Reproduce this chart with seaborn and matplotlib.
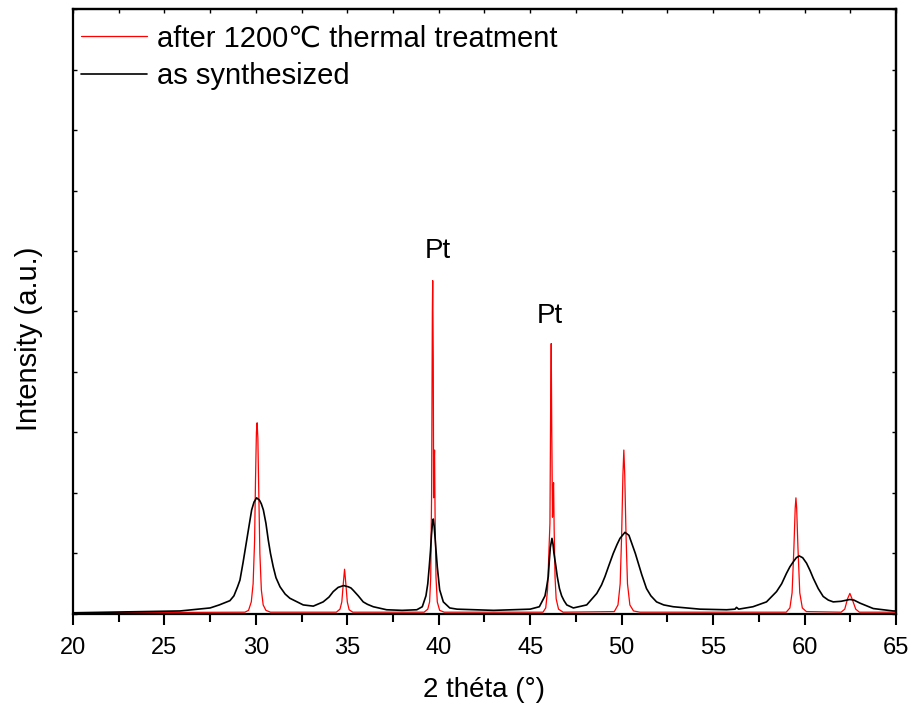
import matplotlib
matplotlib.use("Agg")
import matplotlib.pyplot as plt
import seaborn as sns
import pandas as pd
from matplotlib.ticker import MultipleLocator, NullFormatter

# XRD patterns (2 theta in degrees, intensity in arbitrary units)
treated_2theta = [20, 29.4, 29.6, 29.75, 29.85, 29.93, 29.98, 30.03, 30.07, 30.11, 30.16, 30.22, 30.3, 30.4,
                  30.55, 30.8, 34.4, 34.6, 34.7, 34.78, 34.85, 34.92, 35.0, 35.1, 35.3, 39.2, 39.4, 39.5,
                  39.56, 39.61, 39.65, 39.67, 39.7, 39.72, 39.75, 39.77, 39.8, 39.85, 39.92, 40.05, 40.3,
                  45.7, 45.85, 45.95, 46.02, 46.08, 46.12, 46.15, 46.18, 46.22, 46.26, 46.28, 46.31, 46.36,
                  46.42, 46.55, 46.8, 49.6, 49.8, 49.92, 50.0, 50.07, 50.12, 50.17, 50.24, 50.32, 50.45,
                  50.65, 51.0, 59.0, 59.2, 59.32, 59.42, 59.49, 59.53, 59.57, 59.64, 59.74, 59.88, 60.1,
                  62.0, 62.2, 62.35, 62.48, 62.6, 62.8, 63.0, 65]
treated_int = [0.02, 0.03, 0.06, 0.2, 0.5, 1.2, 2.2, 3.0, 3.16, 2.9, 2.0, 1.0, 0.4, 0.15,
               0.06, 0.03, 0.03, 0.08, 0.2, 0.5, 0.74, 0.5, 0.2, 0.07, 0.03, 0.03, 0.08, 0.2,
               0.6, 2.0, 5.0, 5.51, 4.2, 1.92, 2.5, 2.71, 1.6, 0.6, 0.2, 0.06, 0.03,
               0.03, 0.1, 0.4, 1.0, 1.5, 3.5, 4.47, 3.0, 1.6, 2.1, 2.17, 1.4, 0.6,
               0.25, 0.08, 0.03, 0.04, 0.15, 0.5, 1.3, 2.3, 2.71, 2.3, 1.3, 0.5, 0.15,
               0.05, 0.03, 0.03, 0.1, 0.35, 1.1, 1.75, 1.92, 1.75, 1.1, 0.35, 0.1, 0.04,
               0.03, 0.08, 0.25, 0.34, 0.25, 0.08, 0.03, 0.03]

synth_2theta = [20, 22, 24, 25.85, 27.5, 28.0, 28.58, 28.8, 29.0, 29.13, 29.3, 29.5, 29.65, 29.77, 29.9,
                30.04, 30.2, 30.3, 30.41, 30.55, 30.68, 30.8, 30.95, 31.1, 31.32, 31.6, 31.86, 32.59,
                33.14, 33.68, 34.0, 34.23, 34.5, 34.8, 35.05, 35.2, 35.33, 35.45, 35.6, 35.87, 36.1,
                36.42, 37.15, 38.0, 38.8, 39.1, 39.3, 39.4, 39.48, 39.55, 39.6, 39.65, 39.7, 39.75,
                39.8, 39.86, 39.92, 40.0, 40.05, 40.15, 40.25, 40.6, 41, 43, 45, 45.5, 45.81, 45.9,
                45.99, 46.05, 46.1, 46.19, 46.25, 46.3, 46.4, 46.48, 46.6, 46.72, 46.85, 47.0, 47.36,
                48.09, 48.64, 48.9, 49.09, 49.3, 49.54, 49.75, 49.91, 50.18, 50.4, 50.55, 50.75,
                50.91, 51.1, 51.36, 51.6, 51.91, 52.3, 52.82, 54.28, 55.74, 56.2, 56.28, 56.4, 57.18,
                57.92, 58.47, 58.75, 59.01, 59.2, 59.38, 59.55, 59.71, 59.9, 60.11, 60.3, 60.48,
                60.75, 61.02, 61.3, 61.57, 62.0, 62.48, 62.7, 63.03, 63.76, 64.85, 65]
synth_int = [0.02, 0.03, 0.04, 0.05, 0.1, 0.15, 0.22, 0.3, 0.45, 0.56, 0.85, 1.22, 1.5, 1.72, 1.85,
             1.92, 1.88, 1.82, 1.72, 1.5, 1.22, 1.0, 0.78, 0.6, 0.45, 0.33, 0.26, 0.15,
             0.13, 0.2, 0.28, 0.37, 0.44, 0.47, 0.45, 0.43, 0.39, 0.35, 0.3, 0.2, 0.16,
             0.12, 0.07, 0.06, 0.07, 0.12, 0.3, 0.5, 0.78, 1.05, 1.3, 1.48, 1.57, 1.45,
             1.25, 1.0, 0.78, 0.55, 0.4, 0.3, 0.2, 0.1, 0.08, 0.06, 0.08, 0.12, 0.3, 0.45,
             0.62, 0.9, 1.1, 1.25, 1.15, 1.0, 0.8, 0.62, 0.42, 0.3, 0.22, 0.15, 0.1,
             0.15, 0.34, 0.48, 0.62, 0.8, 1.0, 1.15, 1.25, 1.35, 1.3, 1.17, 1.0,
             0.84, 0.65, 0.42, 0.3, 0.2, 0.15, 0.12, 0.08, 0.07, 0.08, 0.11, 0.08, 0.12,
             0.2, 0.37, 0.5, 0.67, 0.78, 0.86, 0.93, 0.96, 0.93, 0.84, 0.72, 0.59,
             0.42, 0.29, 0.23, 0.2, 0.21, 0.24, 0.23, 0.18, 0.09, 0.05, 0.05]

pt_labels = [(39.96, 6.0), (46.08, 4.92)]

treated = pd.DataFrame({"x": treated_2theta, "y": treated_int})
synth = pd.DataFrame({"x": synth_2theta, "y": synth_int})

sns.set_style("white")
plt.rcParams["font.family"] = ["Liberation Sans", "DejaVu Sans"]
plt.rcParams["text.color"] = "black"
plt.rcParams["axes.labelcolor"] = "black"
plt.rcParams["xtick.color"] = "black"
plt.rcParams["ytick.color"] = "black"

fig = plt.figure(figsize=(9.11, 7.09), dpi=100)
ax = fig.add_axes([0.0801, 0.134, 0.9034, 0.8533])

sns.lineplot(data=treated, x="x", y="y", ax=ax, color="red", lw=0.9, sort=False,
             estimator=None, label="after 1200\u2103 thermal treatment")
sns.lineplot(data=synth, x="x", y="y", ax=ax, color="black", lw=1.2, sort=False,
             estimator=None, label="as synthesized")

for px, py in pt_labels:
    ax.text(px, py, "Pt", fontsize=20, ha="center", va="center")

ax.set_xlim(20, 65)
ax.set_ylim(0, 10)
ax.set_xlabel("2 théta (°)", fontsize=20, labelpad=13)
ax.set_ylabel("Intensity (a.u.)", fontsize=21)
ax.yaxis.set_label_coords(-0.036, 0.4545)

ax.xaxis.set_major_locator(MultipleLocator(5))
ax.xaxis.set_minor_locator(MultipleLocator(2.5))
ax.yaxis.set_major_locator(MultipleLocator(1))
ax.yaxis.set_major_formatter(NullFormatter())
ax.tick_params(axis="x", which="major", direction="out", length=8, width=1.5, labelsize=17, pad=8.5,
               bottom=True)
ax.tick_params(axis="x", which="minor", direction="out", length=5.5, width=1.5, bottom=True)
ax.tick_params(axis="y", which="major", direction="in", length=3, width=1, left=True)

# top and right axes with small inward ticks
top = ax.secondary_xaxis("top")
top.xaxis.set_major_locator(MultipleLocator(2.5))
top.xaxis.set_major_formatter(NullFormatter())
top.tick_params(direction="in", length=3, width=1)
right = ax.secondary_yaxis("right")
right.yaxis.set_major_locator(MultipleLocator(1))
right.yaxis.set_major_formatter(NullFormatter())
right.tick_params(direction="in", length=3, width=1)

for s in ax.spines.values():
    s.set_linewidth(1.6)
    s.set_color("black")
top.spines["top"].set_linewidth(1.6)
right.spines["right"].set_linewidth(1.6)

ax.legend(loc="upper left", bbox_to_anchor=(0.0, 0.9877), frameon=False, fontsize=21,
          handlelength=2.26, handletextpad=0.34, labelspacing=0.33, borderpad=0.27,
          borderaxespad=0.0)

fig.savefig("out.png", dpi=100)
